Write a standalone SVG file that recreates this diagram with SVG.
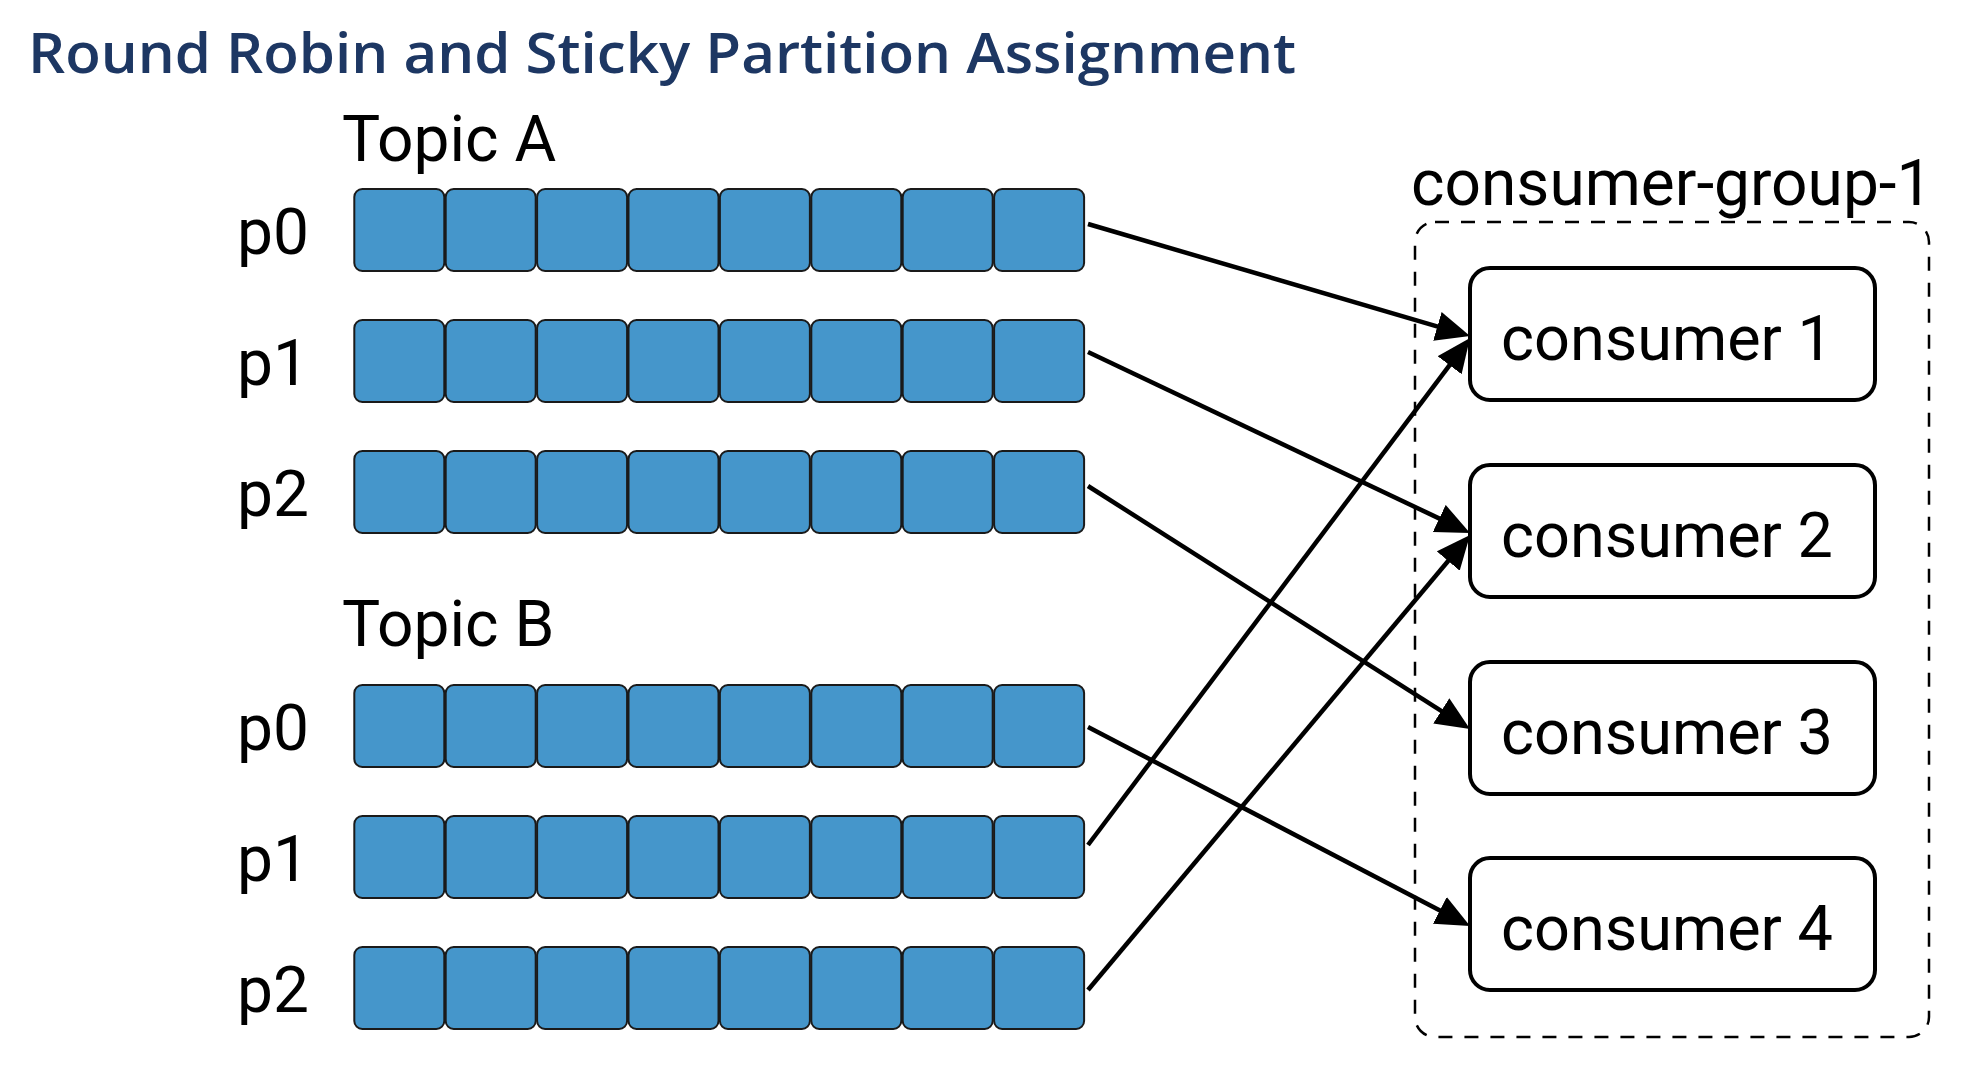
<svg xmlns="http://www.w3.org/2000/svg" xmlns:xlink="http://www.w3.org/1999/xlink" width="1988" height="1092" viewBox="0 0 1988 1092">
<style>
  .title { font-family: "Open Sans", "Noto Sans", "Liberation Sans", sans-serif; font-size: 56px; font-weight: 600; fill: #1d3763; }
  .lbl { font-family: Roboto, "Liberation Sans", sans-serif; font-size: 64px; fill: #000; }
  .cname { font-size: 63px; }
  .cell { fill: #4596cb; stroke: #1a1a1a; stroke-width: 2; }
  .consumer { fill: #fff; stroke: #000; stroke-width: 4; }
  .group { fill: none; stroke: #000; stroke-width: 2.5; stroke-dasharray: 14 12; }
  .conn { fill: none; stroke: #000; stroke-width: 4.5; marker-end: url(#arrow); }
</style>
<defs>
  <marker id="arrow" markerUnits="userSpaceOnUse" markerWidth="36" markerHeight="32" refX="12" refY="15" orient="auto">
    <path d="M0,0 L34,15 L0,30 z" fill="#000"/>
  </marker>
  <g id="cells">
    <rect class="cell" x="354.3" y="0" width="90" height="82" rx="8"/>
    <rect class="cell" x="445.7" y="0" width="90" height="82" rx="8"/>
    <rect class="cell" x="537.1" y="0" width="90" height="82" rx="8"/>
    <rect class="cell" x="628.5" y="0" width="90" height="82" rx="8"/>
    <rect class="cell" x="719.9" y="0" width="90" height="82" rx="8"/>
    <rect class="cell" x="811.3" y="0" width="90" height="82" rx="8"/>
    <rect class="cell" x="902.7" y="0" width="90" height="82" rx="8"/>
    <rect class="cell" x="994.1" y="0" width="90" height="82" rx="8"/>
  </g>
</defs>
<rect width="1988" height="1092" fill="#fff"/>
<text class="title" x="28" y="73" textLength="1268" lengthAdjust="spacingAndGlyphs">Round Robin and Sticky Partition Assignment</text>

<g id="topic-a">
  <text class="lbl" x="342" y="161">Topic A</text>
  <g id="topic-a-p0"><text class="lbl" x="237" y="254">p0</text><use xlink:href="#cells" y="189"/></g>
  <g id="topic-a-p1"><text class="lbl" x="237" y="385">p1</text><use xlink:href="#cells" y="320"/></g>
  <g id="topic-a-p2"><text class="lbl" x="237" y="516">p2</text><use xlink:href="#cells" y="451"/></g>
</g>
<g id="topic-b">
  <text class="lbl" x="342" y="646">Topic B</text>
  <g id="topic-b-p0"><text class="lbl" x="237" y="750">p0</text><use xlink:href="#cells" y="685"/></g>
  <g id="topic-b-p1"><text class="lbl" x="237" y="881">p1</text><use xlink:href="#cells" y="816"/></g>
  <g id="topic-b-p2"><text class="lbl" x="237" y="1012">p2</text><use xlink:href="#cells" y="947"/></g>
</g>

<g id="consumer-group-1">
  <text class="lbl" x="1411" y="205">consumer-group-1</text>
  <rect class="group" x="1415" y="222" width="514" height="815" rx="20"/>
</g>
<g id="consumer-1"><rect class="consumer" x="1470" y="268" width="405" height="132" rx="20"/><text class="lbl cname" x="1667" y="360" text-anchor="middle">consumer 1</text></g>
<g id="consumer-2"><rect class="consumer" x="1470" y="465" width="405" height="132" rx="20"/><text class="lbl cname" x="1667" y="557" text-anchor="middle">consumer 2</text></g>
<g id="consumer-3"><rect class="consumer" x="1470" y="662" width="405" height="132" rx="20"/><text class="lbl cname" x="1667" y="754" text-anchor="middle">consumer 3</text></g>
<g id="consumer-4"><rect class="consumer" x="1470" y="858" width="405" height="132" rx="20"/><text class="lbl cname" x="1667" y="950" text-anchor="middle">consumer 4</text></g>

<g id="connectors">
  <path class="conn" d="M1088,224 L1448.9,329.8"/>
  <path class="conn" d="M1088,352 L1450.1,523.6"/>
  <path class="conn" d="M1088,486 L1451.4,717.3"/>
  <path class="conn" d="M1088,727 L1450.5,915.9"/>
  <path class="conn" d="M1088,845 L1456.8,355.6"/>
  <path class="conn" d="M1088,990 L1455.9,551.8"/>
</g>
</svg>
